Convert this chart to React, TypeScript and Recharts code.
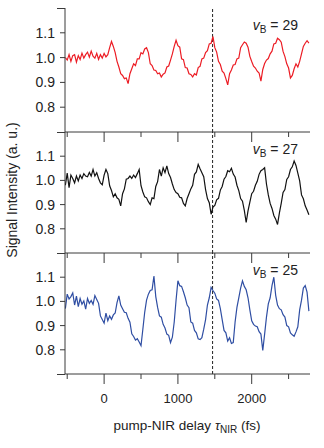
import React from 'react';
import { LineChart, Line, XAxis, YAxis, ReferenceLine } from 'recharts';

// delay grid: first sample and spacing (fs)
const T0 = -525;
const STEP = 25;

const signal29 = [
  1.00, 0.99, 1.012, 0.985, 1.008, 1.012, 0.982, 1.008, 0.992, 1.018,
  0.998, 1.012, 1.022, 1.002, 1.026, 1.006, 0.998, 1.017, 0.993, 1.012,
  0.998, 1.017, 1.003, 1.012, 1.04, 1.065, 1.045, 1.02, 0.985, 0.962,
  0.935, 0.928, 0.915, 0.918, 0.895, 0.935, 0.955, 0.975, 0.968, 0.995,
  0.995, 1.02, 1.015, 1.035, 1.04, 1.02, 0.975, 0.968, 0.95, 0.948,
  0.935, 0.938, 0.922, 0.933, 0.938, 0.962, 0.966, 0.99, 1.015, 1.045,
  1.07, 1.048, 1.042, 0.995, 0.992, 0.96, 0.958, 0.935, 0.932, 0.922,
  0.935, 0.93, 0.96, 0.965, 0.995, 0.998, 1.02, 1.028, 1.055, 1.058,
  1.085, 1.04, 1.022, 0.985, 0.972, 0.945, 0.938, 0.915, 0.89, 0.935,
  0.95, 0.97, 0.972, 0.995, 0.998, 1.04, 1.052, 1.063, 1.058, 1.042,
  1.005, 0.984, 0.965, 0.958, 0.945, 0.938, 0.905, 0.952, 0.976, 0.99,
  0.996, 1.015, 1.026, 1.055, 1.058, 1.078, 1.072, 1.062, 1.025, 1.004,
  0.975, 0.958, 0.918, 0.928, 0.955, 0.975, 0.962, 0.985, 1.015, 1.045,
  1.058, 1.068, 1.058,
];

const signal27 = [
  0.98, 1.03, 0.97, 1.022, 1.008, 0.99, 1.018, 0.998, 1.022, 1.008,
  1.028, 1.018, 1.015, 1.033, 1.018, 1.045, 1.018, 1.032, 1.008, 0.99,
  0.982, 1.022, 1.045, 1.028, 0.978, 0.958, 0.932, 0.945, 0.928, 0.922,
  0.895, 0.945, 0.965, 1.005, 1.008, 1.018, 1.008, 1.022, 1.012, 1.028,
  1.045, 0.978, 0.952, 0.932, 0.928, 0.912, 0.90, 0.928, 0.925, 0.975,
  0.995, 1.045, 1.018, 1.052, 1.032, 1.06, 1.028, 1.012, 0.985, 0.962,
  0.95, 0.945, 0.93, 0.928, 0.905, 0.895, 0.925, 0.945, 0.965, 0.98,
  1.025, 1.035, 1.066, 1.048, 1.032, 1.015, 0.962, 0.925, 0.908, 0.86,
  0.89, 0.897, 0.92, 0.926, 0.96, 0.975, 1.005, 1.016, 1.04, 1.036,
  1.05, 1.026, 1.014, 0.98, 0.958, 0.925, 0.914, 0.876, 0.826, 0.874,
  0.91, 0.945, 0.955, 0.98, 0.996, 1.025, 1.04, 1.045, 1.052, 0.985,
  0.94, 0.905, 0.884, 0.855, 0.84, 0.818, 0.865, 0.905, 0.95, 0.962,
  1.004, 1.015, 1.045, 1.056, 1.08, 1.062, 1.03, 0.998, 0.94, 0.924,
  0.895, 0.878, 0.858,
];

const signal25 = [
  0.97, 1.03, 1.01, 1.02, 1.035, 0.985, 1.022, 0.978, 1.012, 0.988,
  1.002, 0.968, 1.012, 0.992, 1.004, 0.988, 1.024, 1.008, 0.992, 0.94,
  0.925, 0.91, 0.952, 0.92, 0.94, 0.926, 0.944, 0.952, 0.995, 1.023,
  0.985, 0.97, 0.955, 0.953, 0.93, 0.914, 0.866, 0.855, 0.84, 0.846,
  0.832, 0.817, 0.885, 0.955, 1.005, 1.03, 1.045, 1.048, 1.105, 1.02,
  0.975, 0.94, 0.935, 0.905, 0.89, 0.865, 0.86, 0.83, 0.852, 0.915,
  1.005, 1.085, 1.065, 1.062, 1.04, 1.015, 0.985, 0.974, 0.915, 0.91,
  0.88, 0.87, 0.845, 0.842, 0.85, 0.885, 0.925, 0.985, 1.015, 1.058,
  1.045, 1.034, 1.01, 1.004, 0.97, 0.925, 0.88, 0.87, 0.836, 0.85,
  0.826, 0.83, 0.915, 0.975, 1.015, 1.055, 1.085, 1.062, 1.048, 1.015,
  0.965, 0.92, 0.905, 0.898, 0.895, 0.875, 0.865, 0.797, 0.865, 0.935,
  0.99, 1.015, 1.065, 1.10, 1.025, 0.985, 0.97, 0.965, 0.945, 0.935,
  0.9, 0.895, 0.87, 0.862, 0.856, 0.874, 0.895, 0.965, 1.005, 1.055,
  1.065, 1.038, 0.96,
];

const yTicks = [0.8, 0.9, 1.0, 1.1];
const xTicks = [-500, 0, 500, 1000, 1500, 2000, 2500];
const xLabelled = [0, 1000, 2000];
const markerDelay = 1470;

const AXIS = '#3a3a3a';
const TEXT = '#222';
const FONT = '"Liberation Sans", Arial, sans-serif';

const XTick = (props: any, showLabel: boolean) => {
  const { x, y, payload } = props;
  const major = payload.value % 1000 === 0;
  return (
    <g>
      <line x1={x} x2={x} y1={y} y2={y + (major ? 10 : 5)} stroke={AXIS} strokeWidth={1} />
      {showLabel && xLabelled.includes(payload.value) && (
        <text x={x} y={y + 29} textAnchor="middle" fontSize={13} fill={TEXT} fontFamily={FONT}>
          {payload.value}
        </text>
      )}
    </g>
  );
};

type PanelProps = {
  values: number[];
  color: string;
  level: string;
  top: number;
  height: number;
  last?: boolean;
};

const Panel = ({ values, color, level, top, height, last }: PanelProps) => {
  const data = values.map((v, i) => ({ t: T0 + i * STEP, v }));
  const axisH = last ? 34 : 12;
  return (
    <div style={{ position: 'absolute', left: 0, top: top - 1 }}>
      <LineChart
        width={324}
        height={height + 1 + axisH}
        data={data}
        margin={{ top: 1, right: 14, bottom: 0, left: 0 }}
      >
        <XAxis
          dataKey="t"
          type="number"
          domain={[-530, 2790]}
          allowDataOverflow
          ticks={xTicks}
          interval={0}
          height={axisH}
          tickSize={0}
          tickMargin={0}
          tickLine={false}
          stroke={AXIS}
          tick={(p: any) => XTick(p, !!last)}
        />
        <XAxis
          xAxisId="top"
          orientation="top"
          dataKey="t"
          type="number"
          domain={[-530, 2790]}
          height={0}
          tick={false}
          tickLine={false}
          stroke={AXIS}
        />
        <YAxis
          domain={[0.7, 1.2]}
          allowDataOverflow
          ticks={yTicks}
          interval={0}
          width={65}
          tickSize={5}
          tickMargin={5}
          stroke={AXIS}
          tick={{ fill: TEXT, fontSize: 14, fontFamily: FONT }}
          tickFormatter={(v: number) => v.toFixed(1)}
        />
        <YAxis
          yAxisId="right"
          orientation="right"
          domain={[0.7, 1.2]}
          width={0}
          tick={false}
          tickLine={false}
          stroke={AXIS}
        />
        <ReferenceLine x={markerDelay} stroke="#222" strokeDasharray="3 2" />
        <Line
          dataKey="v"
          stroke={color}
          strokeWidth={1.2}
          dot={false}
          isAnimationActive={false}
        />
      </LineChart>
      <div
        style={{
          position: 'absolute',
          right: 26,
          top: 10,
          fontSize: 14,
          color: TEXT,
          fontFamily: FONT,
          whiteSpace: 'nowrap',
        }}
      >
        <i>v</i>
        <span style={{ fontSize: 10, position: 'relative', top: 3 }}>B</span> = {level}
      </div>
    </div>
  );
};

const App = () => {
  return (
    <div
      style={{
        position: 'absolute',
        left: 0,
        top: 0,
        width: 324,
        height: 448,
        background: '#fff',
        fontFamily: FONT,
      }}
    >
      <Panel values={signal29} color="#ec1c24" level="29" top={8} height={124} />
      <Panel values={signal27} color="#111" level="27" top={132} height={121} />
      <Panel values={signal25} color="#2f4ea3" level="25" top={253} height={121} last />

      {/* axis lines run a few px past the left axis */}
      {[8, 132, 253, 374].map((y) => (
        <div
          key={y}
          style={{ position: 'absolute', left: 57, top: y - 0.5, width: 8, height: 1, background: AXIS }}
        />
      ))}

      <div
        style={{
          position: 'absolute',
          left: 12,
          top: 190,
          transform: 'translate(-50%, -50%) rotate(-90deg)',
          fontSize: 14,
          color: TEXT,
          whiteSpace: 'nowrap',
        }}
      >
        Signal Intensity (a. u.)
      </div>

      <div
        style={{
          position: 'absolute',
          left: 187,
          top: 425,
          transform: 'translate(-50%, -50%)',
          fontSize: 13.5,
          color: TEXT,
          whiteSpace: 'nowrap',
        }}
      >
        pump-NIR delay <i>τ</i>
        <span style={{ fontSize: 10, position: 'relative', top: 3 }}>NIR</span> (fs)
      </div>
    </div>
  );
};

export default App;
